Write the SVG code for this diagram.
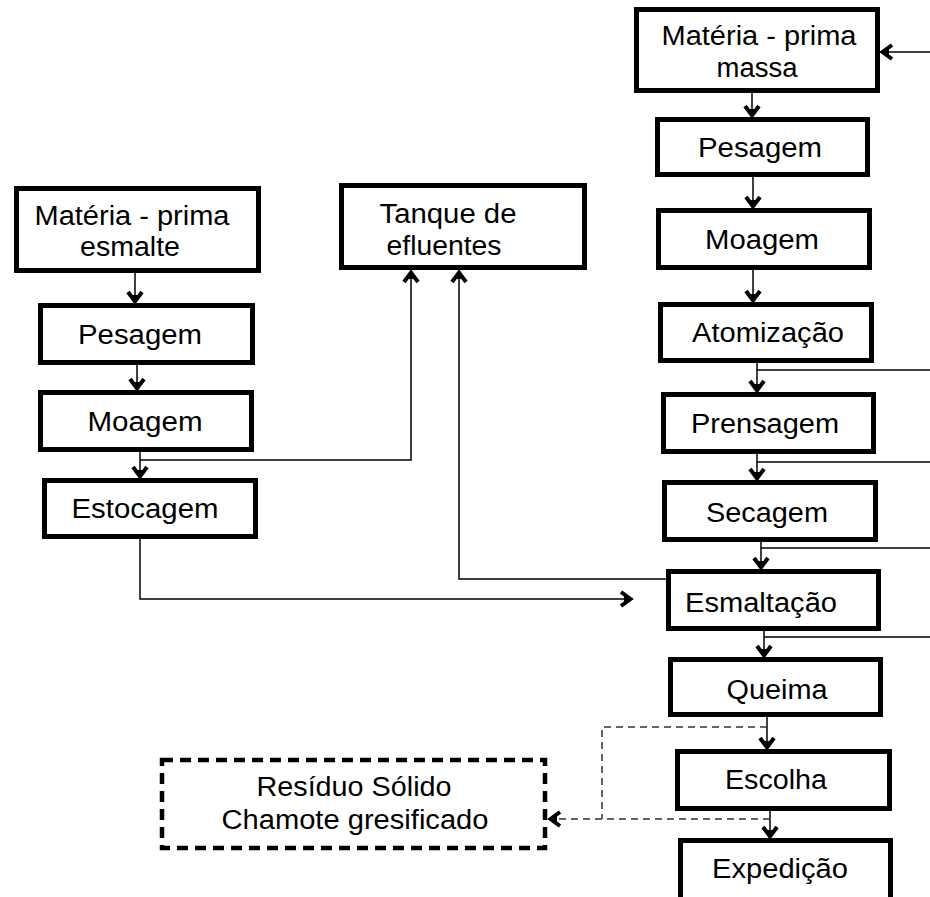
<svg xmlns="http://www.w3.org/2000/svg" width="930" height="897" viewBox="0 0 930 897">
<style>
.box{fill:#fff;stroke:#000;stroke-width:5}
.dbox{fill:#fff;stroke:#000;stroke-width:4.5;stroke-dasharray:11 7}
.t{font-family:"Liberation Sans",Arial,sans-serif;font-size:27px;fill:#000;text-anchor:middle}
.c{fill:none;stroke:#000;stroke-width:1.5}
.d{fill:none;stroke:#333;stroke-width:1.5;stroke-dasharray:7 5}
</style>
<defs>
<marker id="ah" viewBox="-15 -10 17 20" refX="0" refY="0" markerWidth="17" markerHeight="20" markerUnits="userSpaceOnUse" orient="auto">
<path d="M-11,-7 L-1.5,0 L-11,7" fill="none" stroke="#000" stroke-width="4"/>
<path d="M-8,-3.5 L0,0 L-8,3.5 Z" fill="#000"/>
</marker>
</defs>
<rect width="930" height="897" fill="#fff"/>
<g id="connectors">
<path class="c" d="M752,93 V117" marker-end="url(#ah)"/>
<path class="c" d="M753,177 V208" marker-end="url(#ah)"/>
<path class="c" d="M753,270 V302" marker-end="url(#ah)"/>
<path class="c" d="M757,363 V392" marker-end="url(#ah)"/>
<path class="c" d="M757,370 H930"/>
<path class="c" d="M757,454 V480" marker-end="url(#ah)"/>
<path class="c" d="M757,462 H930"/>
<path class="c" d="M761,542 V569" marker-end="url(#ah)"/>
<path class="c" d="M761,548 H930"/>
<path class="c" d="M764,631 V657" marker-end="url(#ah)"/>
<path class="c" d="M764,637 H930"/>
<path class="c" d="M767,717 V749" marker-end="url(#ah)"/>
<path class="c" d="M770,811 V838" marker-end="url(#ah)"/>
<path class="c" d="M930,52 H881" marker-end="url(#ah)"/>
<path class="c" d="M666,579 H459 V271" marker-end="url(#ah)"/>
<path class="c" d="M140,539 V599 H632" marker-end="url(#ah)"/>
<path class="c" d="M135,273 V303" marker-end="url(#ah)"/>
<path class="c" d="M137,365 V390" marker-end="url(#ah)"/>
<path class="c" d="M140,452 V478" marker-end="url(#ah)"/>
<path class="c" d="M140,460 H411 V271" marker-end="url(#ah)"/>
<path class="d" d="M767,727 H602 V819"/>
<path class="d" d="M770,819 H549" marker-end="url(#ah)"/>
</g>
<g id="massa"><rect class="box" x="636.5" y="9.5" width="241" height="81"/><text class="t" x="759" y="45" textLength="195" lengthAdjust="spacingAndGlyphs">Matéria - prima</text><text class="t" x="757" y="77" textLength="81" lengthAdjust="spacingAndGlyphs">massa</text></g>
<g id="pesagem-m"><rect class="box" x="657.5" y="119.5" width="210" height="55"/><text class="t" x="760" y="157" textLength="124" lengthAdjust="spacingAndGlyphs">Pesagem</text></g>
<g id="moagem-m"><rect class="box" x="658.5" y="210.5" width="211" height="57"/><text class="t" x="762" y="249" textLength="114" lengthAdjust="spacingAndGlyphs">Moagem</text></g>
<g id="atomizacao"><rect class="box" x="660.5" y="304.5" width="211" height="56"/><text class="t" x="768" y="342" textLength="152" lengthAdjust="spacingAndGlyphs">Atomização</text></g>
<g id="prensagem"><rect class="box" x="663.5" y="394.5" width="210" height="57"/><text class="t" x="765" y="433" textLength="148" lengthAdjust="spacingAndGlyphs">Prensagem</text></g>
<g id="secagem"><rect class="box" x="664.5" y="482.5" width="211" height="57"/><text class="t" x="767" y="522" textLength="122" lengthAdjust="spacingAndGlyphs">Secagem</text></g>
<g id="esmaltacao"><rect class="box" x="668.5" y="571.5" width="210" height="57"/><text class="t" x="761" y="612" textLength="152" lengthAdjust="spacingAndGlyphs">Esmaltação</text></g>
<g id="queima"><rect class="box" x="670.5" y="659.5" width="210" height="55"/><text class="t" x="777" y="699" textLength="101" lengthAdjust="spacingAndGlyphs">Queima</text></g>
<g id="escolha"><rect class="box" x="677.5" y="751.5" width="212" height="57"/><text class="t" x="776" y="789" textLength="102" lengthAdjust="spacingAndGlyphs">Escolha</text></g>
<g id="expedicao"><rect class="box" x="680.5" y="840.5" width="210" height="80"/><text class="t" x="780" y="878" textLength="136" lengthAdjust="spacingAndGlyphs">Expedição</text></g>
<g id="esmalte"><rect class="box" x="16.5" y="188.5" width="242" height="82"/><text class="t" x="132" y="225" textLength="195" lengthAdjust="spacingAndGlyphs">Matéria - prima</text><text class="t" x="130" y="256" textLength="100" lengthAdjust="spacingAndGlyphs">esmalte</text></g>
<g id="pesagem-e"><rect class="box" x="40.5" y="305.5" width="212" height="57"/><text class="t" x="140" y="344" textLength="124" lengthAdjust="spacingAndGlyphs">Pesagem</text></g>
<g id="moagem-e"><rect class="box" x="40.5" y="392.5" width="211" height="57"/><text class="t" x="145" y="431" textLength="115" lengthAdjust="spacingAndGlyphs">Moagem</text></g>
<g id="estocagem"><rect class="box" x="44.5" y="480.5" width="211" height="56"/><text class="t" x="145" y="518" textLength="147" lengthAdjust="spacingAndGlyphs">Estocagem</text></g>
<g id="tanque"><rect class="box" x="341.5" y="185.5" width="243" height="82"/><text class="t" x="448" y="223" textLength="137" lengthAdjust="spacingAndGlyphs">Tanque de</text><text class="t" x="444" y="255" textLength="115" lengthAdjust="spacingAndGlyphs">efluentes</text></g>
<g id="residuo"><rect class="dbox" x="162" y="760" width="383" height="88"/><text class="t" x="354" y="796" textLength="195" lengthAdjust="spacingAndGlyphs">Resíduo Sólido</text><text class="t" x="355" y="829" textLength="267" lengthAdjust="spacingAndGlyphs">Chamote gresificado</text></g>
</svg>
